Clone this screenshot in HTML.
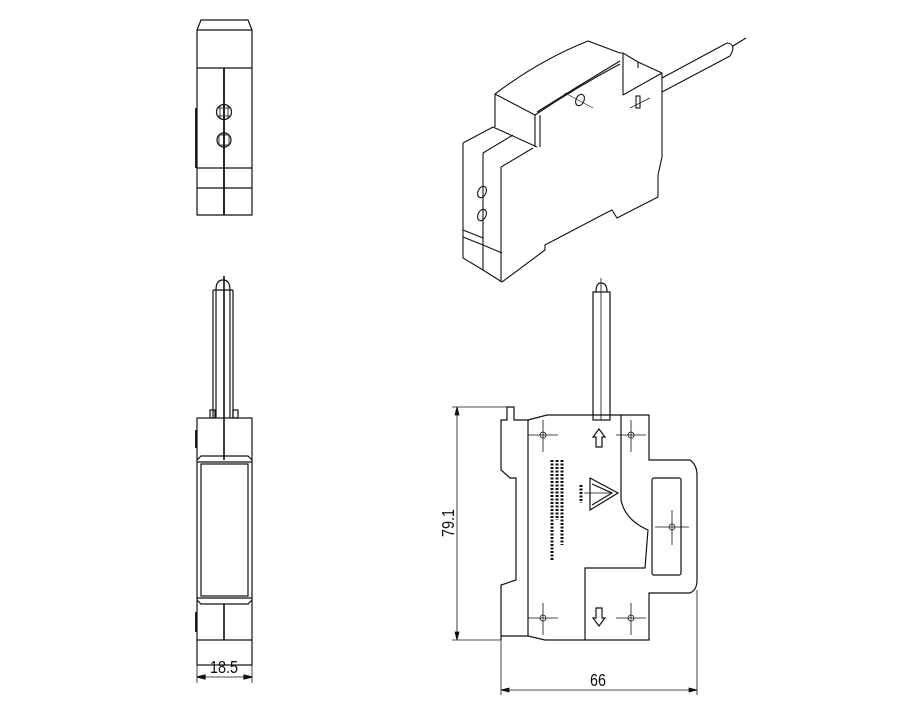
<!DOCTYPE html>
<html><head><meta charset="utf-8"><style>
html,body{margin:0;padding:0;background:#fff}
svg{display:block}
text{font-family:"Liberation Sans",sans-serif;fill:#111}
</style></head><body>
<svg width="907" height="711" viewBox="0 0 907 711" xmlns="http://www.w3.org/2000/svg" fill="none" stroke="#111" stroke-width="1.2">
<!-- Top-left view -->
<path d="M197,215 V30 L201,20 H248 L252,30 V215 Z"/>
<line x1="197" y1="30" x2="252" y2="30"/>
<line x1="197" y1="68" x2="252" y2="68"/>
<line x1="224" y1="68" x2="224" y2="215" stroke-width="1.8"/>
<circle cx="224" cy="112" r="7.5"/>
<path d="M218,108 H230 M218,116 H230 M220,106 V118 M228,106 V118" stroke-width="0.8"/>
<circle cx="224" cy="140" r="7"/>
<rect x="219" y="135" width="10" height="10" stroke-width="0.8"/>
<line x1="197" y1="168" x2="252" y2="168"/>
<line x1="197" y1="188" x2="252" y2="188"/>
<line x1="196" y1="108" x2="196" y2="168" stroke-width="1.8"/>

<!-- Bottom-left view -->
<path d="M216,418 V290 Q216,280 223,280 Q230,280 230,290 V418"/>
<line x1="213" y1="290" x2="233" y2="290"/>
<line x1="213" y1="290" x2="213" y2="418"/>
<line x1="233" y1="290" x2="233" y2="418"/>
<line x1="224" y1="276" x2="224" y2="460" stroke-width="1.6"/>
<rect x="210" y="410" width="5" height="8"/><rect x="233" y="410" width="5" height="8"/>
<rect x="197" y="418" width="55" height="247"/>
<path d="M197,460 L201,456 H248 L252,460 M197,600 L201,604 H248 L252,600"/>
<line x1="197" y1="462" x2="252" y2="462"/>
<line x1="197" y1="598" x2="252" y2="598"/>
<rect x="201" y="464" width="47" height="132"/>
<line x1="224" y1="604" x2="224" y2="640" stroke-width="1.6"/>
<line x1="197" y1="640" x2="252" y2="640"/>
<line x1="196" y1="430" x2="196" y2="448" stroke-width="1.8"/>
<line x1="196" y1="612" x2="196" y2="632" stroke-width="1.8"/>
<line x1="197" y1="665" x2="197" y2="683" stroke-width="0.8"/>
<line x1="252" y1="665" x2="252" y2="683" stroke-width="0.8"/>
<line x1="197" y1="677" x2="252" y2="677" stroke-width="0.8"/>
<path d="M197,677 l8,-2 v4 z M252,677 l-8,-2 v4 z" fill="#111"/>
<text x="0" y="0" font-size="18" text-anchor="middle" stroke="none" transform="translate(224,673) scale(0.8,1)">18.5</text>

<!-- Isometric view -->
<g stroke-width="1.1">
<path d="M463,143 V258 L483,270 L502,282"/>
<path d="M483,153 V270"/>
<path d="M501,167 V282"/>
<path d="M463,143 L493,127 M483,153 L513,135 M501,167 L533,148 M493,127 L537,147"/>
<path d="M463,237 L483,245 L502,253 M463,230 L483,238"/>
<path d="M495,94 V127 M495,94 Q540,60 588,41 L620,53 M495,94 L535,115 Q575,88 620,64 M535,115 V147 M540,115 V147"/>
<path d="M537,112 Q578,86 620,61"/>
<path d="M623,53 V95 M620,53 H623 L638,62 L662,73 M638,62 V68 M623,95 L662,73"/>
<path d="M662,73 V157 L658,175 V197 L617,218 L612,210 L604,214 L545,245 L545,250 L502,282"/>
<ellipse cx="580" cy="100" rx="4" ry="6" transform="rotate(25 580 100)"/>
<line x1="565" y1="93" x2="593" y2="108" stroke-width="0.7"/>
<rect x="636" y="96" width="4" height="12"/>
<line x1="630" y1="108" x2="650" y2="98" stroke-width="0.7"/>
<ellipse cx="482" cy="192" rx="4" ry="6" transform="rotate(25 482 192)"/>
<ellipse cx="482" cy="215" rx="4" ry="6" transform="rotate(25 482 215)"/>
<path d="M662,78 L727,43 M662,92 L730,56 M727,43 Q737,44 730,56 M733,46 L746,38"/>
</g>

<!-- Bottom-right view -->
<path d="M501,640 V585 L516,580 V478 L510,478 L501,470 V420 H507 V407 H514 V420 H528 L547,415 H649 V460 H690 Q697,465 697,475 V580 Q697,590 690,593 H649 V640 H545 L528,636 H501"/>
<line x1="528" y1="420" x2="528" y2="636"/>
<path d="M621,415 V500 Q625,520 648,530 L645,568 H585 V640"/>
<rect x="593" y="292" width="17" height="128"/>
<path d="M596,292 Q596,283 601,283 Q607,283 607,292"/>
<line x1="601" y1="278" x2="601" y2="420" stroke-width="0.8"/>
<rect x="652" y="478" width="29" height="97" rx="2"/>
<g stroke-width="0.8">
<path d="M528,435 H558 M543,420 V452 M616,435 H646 M631,420 V452 M528,618 H558 M543,603 V635 M616,618 H646 M631,603 V635 M655,527 H689 M672,510 V545"/>
<circle cx="543" cy="435" r="3"/><circle cx="631" cy="435" r="3"/><circle cx="543" cy="618" r="3"/><circle cx="631" cy="618" r="3"/><circle cx="672" cy="527" r="3"/>
</g>
<path d="M596,447 V437 H593 L599,429 L605,437 H602 V447 Z"/>
<path d="M596,608 V618 H593 L599,626 L605,618 H602 V608 Z"/>
<path d="M590,478 L618,493 L590,510 Z M592,484 L612,493 L592,505"/>
<line x1="584" y1="493" x2="612" y2="493" stroke-width="0.8"/>
<g stroke-width="3" stroke-dasharray="2 1.5">
<line x1="552" y1="460" x2="552" y2="560"/>
<line x1="557" y1="460" x2="557" y2="520"/>
<line x1="562" y1="460" x2="562" y2="545"/>
<line x1="581" y1="485" x2="581" y2="503"/>
</g>
<g stroke-width="0.8">
<line x1="457" y1="407" x2="457" y2="640"/>
<line x1="452" y1="407" x2="510" y2="407"/>
<line x1="452" y1="640" x2="501" y2="640"/>
<path d="M457,407 l-2,8 h4 z M457,640 l-2,-8 h4 z" fill="#111"/>
<line x1="501" y1="640" x2="501" y2="695"/>
<line x1="697" y1="590" x2="697" y2="695"/>
<line x1="501" y1="690" x2="697" y2="690"/>
<path d="M501,690 l8,-2 v4 z M697,690 l-8,-2 v4 z" fill="#111"/>
</g>
<text x="0" y="0" font-size="18" stroke="none" text-anchor="middle" transform="translate(454,523) rotate(-90) scale(0.8,1)">79.1</text>
<text x="0" y="0" font-size="18" stroke="none" text-anchor="middle" transform="translate(598,686) scale(0.8,1)">66</text>
</svg>
</body></html>
